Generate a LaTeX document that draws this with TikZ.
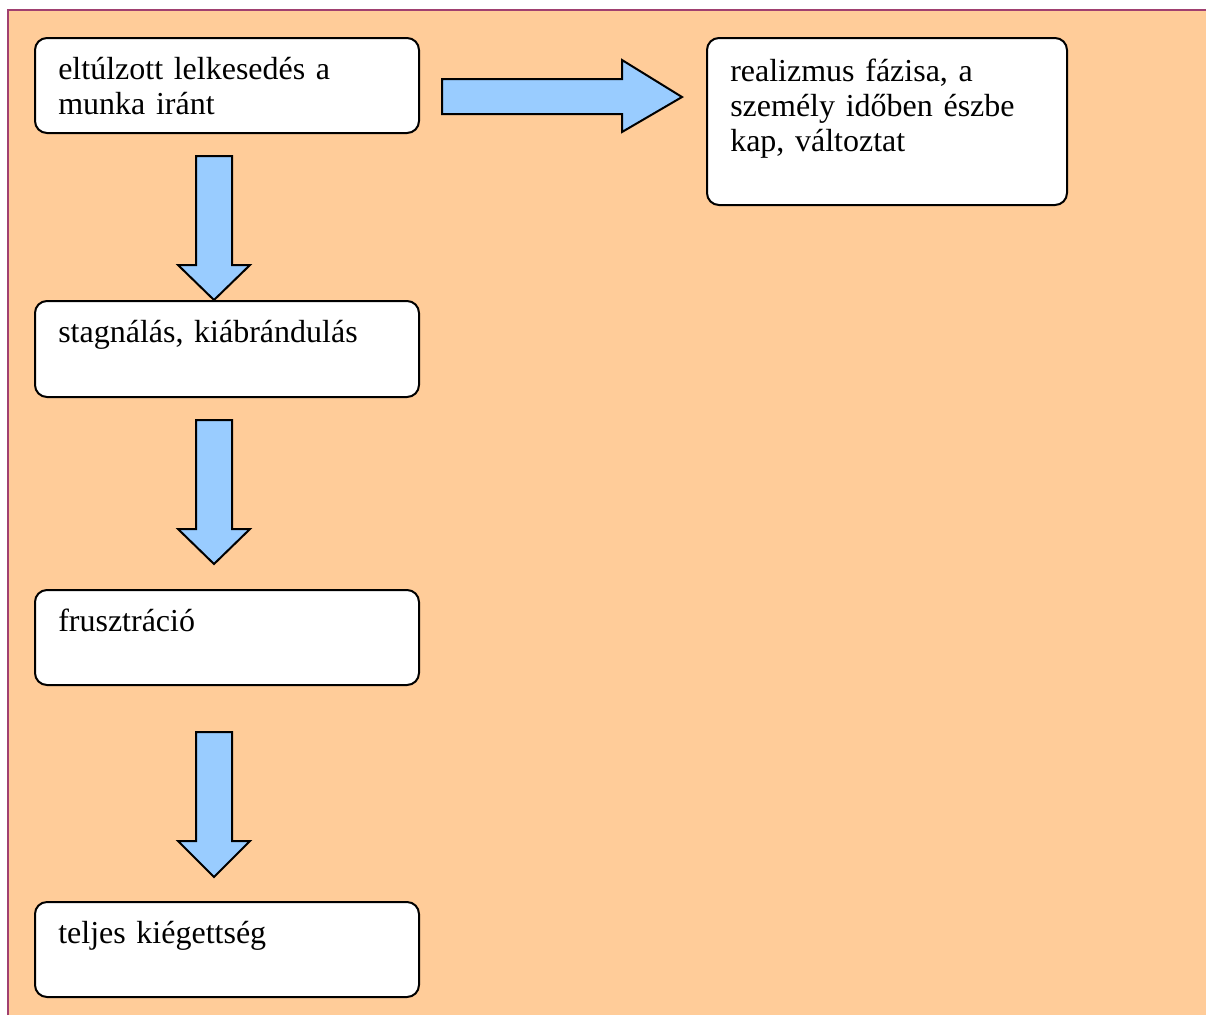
\documentclass[tikz,border=0pt]{standalone}
\usepackage{fontspec}
\setmainfont[WordSpace=0.6]{Liberation Serif}
\definecolor{bgpeach}{RGB}{255,204,153}
\definecolor{framepurple}{RGB}{160,64,112}
\definecolor{arrowblue}{RGB}{153,204,255}
\tikzset{
  box/.style={draw=black, fill=white, line width=1.5pt, rounded corners=9pt, anchor=north west, inner sep=0pt},
  txt/.style={anchor=base west, inner sep=0pt, align=left, text width=280pt,
              font=\fontsize{24}{26.25}\selectfont},
  blockarrow/.style={draw=black, fill=arrowblue, line width=1.5pt, line join=miter},
}
\begin{document}
\begin{tikzpicture}[x=0.75pt,y=-0.75pt]
\useasboundingbox (0,0) rectangle (1206,1015);
\fill[white] (0,0) rectangle (1206,1015);
\fill[bgpeach] (8,10) rectangle (1206,1015);
\draw[framepurple, line width=1.8pt] (8,1015) -- (8,10) -- (1206,10);

% boxes
\node[box, minimum width=288pt, minimum height=71.25pt] (b1) at (34,37) {};
\node[box, minimum width=288pt, minimum height=72pt] (b2) at (34,300) {};
\node[box, minimum width=288pt, minimum height=71.25pt] (b3) at (34,589) {};
\node[box, minimum width=288pt, minimum height=71.25pt] (b4) at (34,901) {};
\node[box, minimum width=270pt, minimum height=125.25pt] (b5) at (706,37) {};

% texts
\node[txt] (t1) at ([xshift=18pt,yshift=-31.5pt]b1.north west) {eltúlzott lelkesedés a\\munka iránt};
\node[txt] (t2) at ([xshift=18pt,yshift=-31.5pt]b2.north west) {stagnálás, kiábrándulás};
\node[txt] (t3) at ([xshift=18pt,yshift=-31.5pt]b3.north west) {frusztráció};
\node[txt] (t4) at ([xshift=18pt,yshift=-31.5pt]b4.north west) {teljes kiégettség};
\node[txt] (t5) at ([xshift=18pt,yshift=-33pt]b5.north west) {realizmus fázisa, a\\személy időben észbe\\kap, változtat};

% block arrows
\draw[blockarrow] (442,79) -- (622,79) -- (622,60) -- (682,97) -- (622,132) -- (622,114) -- (442,114) -- cycle;
\draw[blockarrow] (196,156) -- (232,156) -- (232,265) -- (250,265) -- (214,300) -- (178,265) -- (196,265) -- cycle;
\draw[blockarrow] (196,420) -- (232,420) -- (232,529) -- (250,529) -- (214,564) -- (178,529) -- (196,529) -- cycle;
\draw[blockarrow] (196,732) -- (232,732) -- (232,841) -- (250,841) -- (214,877) -- (178,841) -- (196,841) -- cycle;
\end{tikzpicture}
\end{document}
